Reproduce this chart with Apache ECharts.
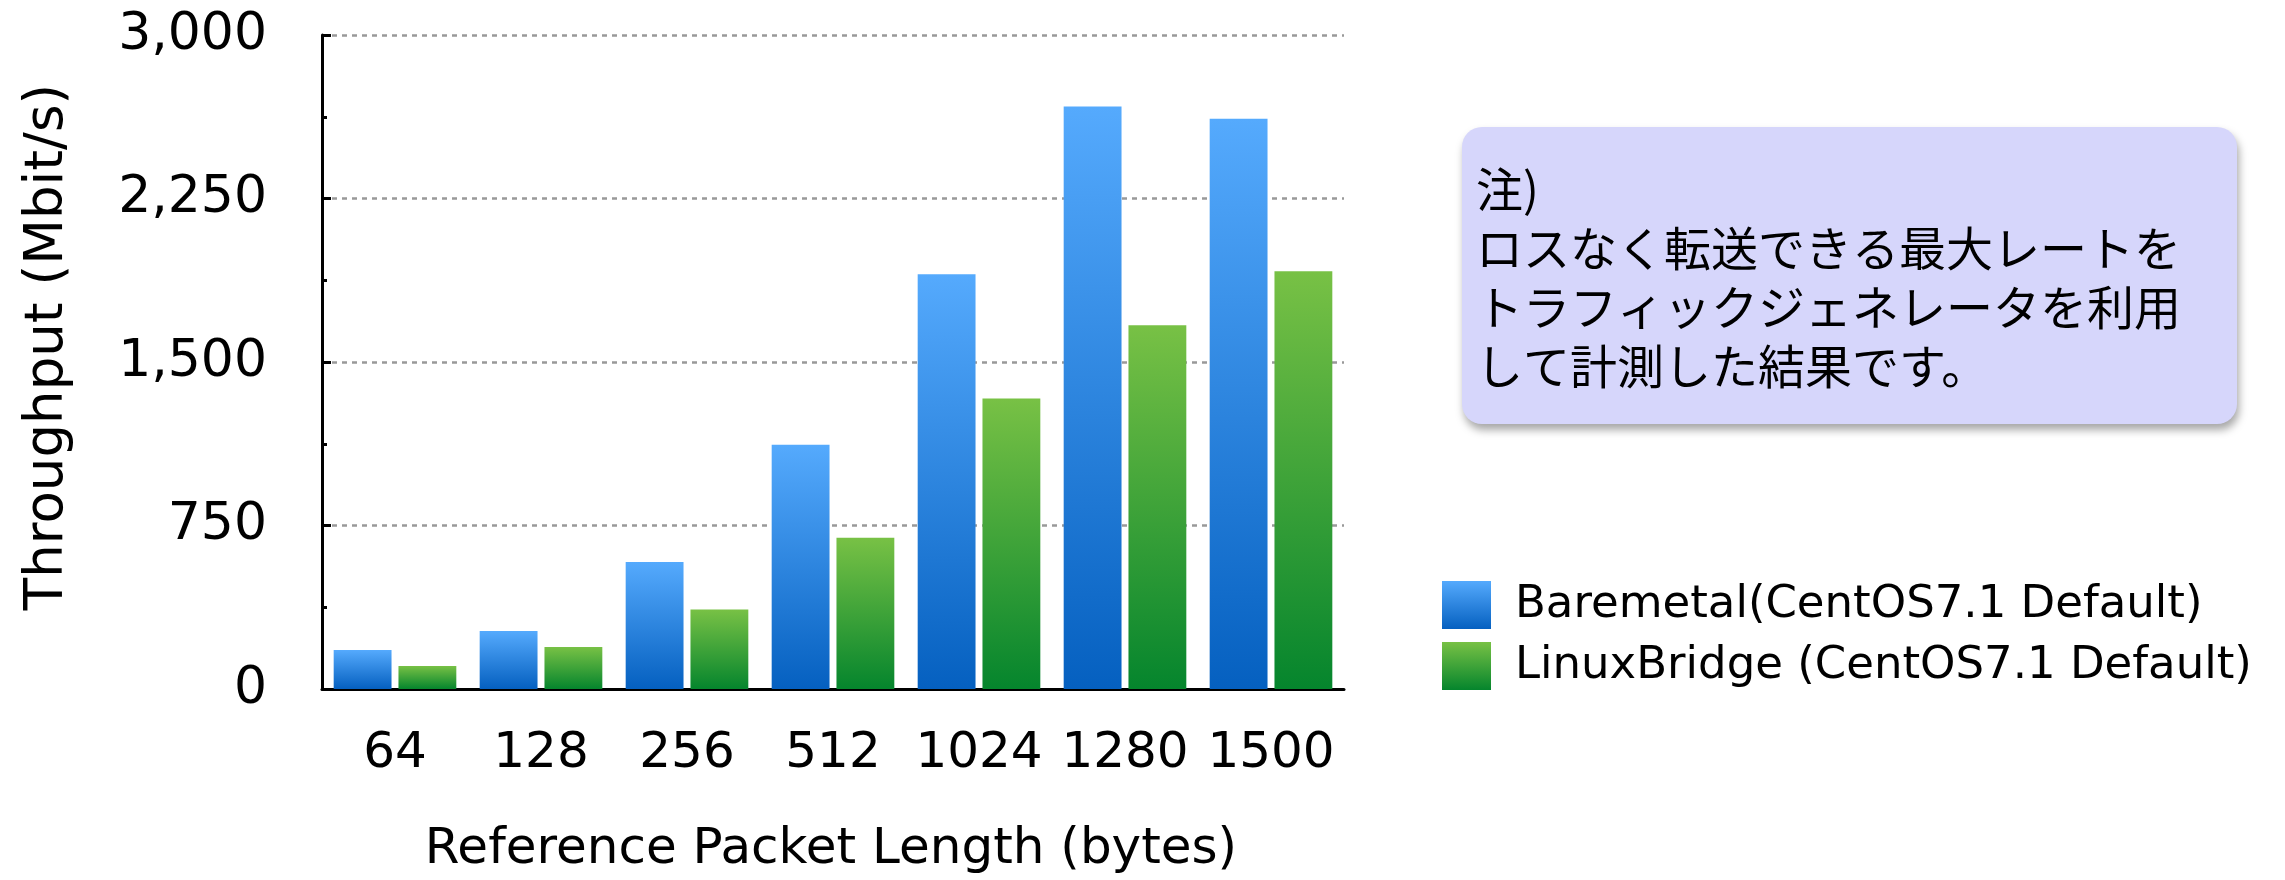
<!DOCTYPE html>
<html>
<head>
<meta charset="utf-8">
<title>Throughput by packet length</title>
<script src="https://cdn.jsdelivr.net/npm/echarts@6/dist/echarts.min.js"></script>
<style>
  html, body { margin: 0; padding: 0; background: #fff; }
  #chart { width: 2285px; height: 880px; }
</style>
</head>
<body>
<div id="chart"></div>
<script>
// Packet sizes on the x axis (bytes)
const packetLengths = ['64', '128', '256', '512', '1024', '1280', '1500'];
// Measured throughput, Mbit/s
const baremetal = [179, 266, 582, 1120, 1903, 2672, 2616];
const linuxBridge = [106, 193, 365, 694, 1332, 1669, 1916];
const seriesNames = ['Baremetal(CentOS7.1 Default)', 'LinuxBridge (CentOS7.1 Default)'];
// Text of the note box
const noteLines = ['注)', 'ロスなく転送できる最大レートを', 'トラフィックジェネレータを利用', 'して計測した結果です。'];
const xTitle = 'Reference Packet Length (bytes)';
const yTitle = 'Throughput (Mbit/s)';

const LATIN = '"DejaVu Sans", "Noto Sans CJK JP", sans-serif';
const CJK = '"Noto Sans CJK JP", "DejaVu Sans", sans-serif';

function vGrad(top, bottom) {
  return new echarts.graphic.LinearGradient(0, 0, 0, 1, [
    { offset: 0, color: top },
    { offset: 1, color: bottom }
  ]);
}
const blueFill = vGrad('#55aafd', '#0560c0');
const greenFill = vGrad('#78c145', '#05852d');

const chart = echarts.init(document.getElementById('chart'), null, { renderer: 'canvas' });

chart.setOption({
  animation: false,
  backgroundColor: '#ffffff',
  grid: { left: 322, right: 941, top: 35, bottom: 191, containLabel: false },
  legend: {
    orient: 'vertical',
    left: 1437,
    top: 576,
    itemWidth: 49,
    itemHeight: 48,
    itemGap: 13,
    icon: 'rect',
    selectedMode: false,
    textStyle: { fontFamily: LATIN, fontSize: 45, color: '#000', padding: [0, 0, 0, 19] },
    data: seriesNames
  },
  xAxis: {
    type: 'category',
    data: packetLengths,
    axisLine: { show: true, lineStyle: { color: '#000', width: 3 } },
    axisTick: { show: false },
    axisLabel: { interval: 0, fontFamily: LATIN, fontSize: 50, color: '#000', margin: 40 },
    splitLine: { show: false }
  },
  yAxis: {
    type: 'value',
    min: 0,
    max: 3000,
    interval: 750,
    axisLine: { show: true, lineStyle: { color: '#000', width: 3 } },
    axisTick: { show: true, inside: true, length: 9, lineStyle: { color: '#000', width: 3 } },
    minorTick: { show: true, splitNumber: 2, length: 5, lineStyle: { color: '#000', width: 3 } },
    axisLabel: {
      fontFamily: LATIN, fontSize: 52, color: '#000', margin: 55,
      formatter: v => v.toLocaleString('en-US')
    },
    splitLine: { show: true, lineStyle: { color: '#999999', width: 2.5, type: [5, 5] } }
  },
  series: [
    {
      name: seriesNames[0],
      type: 'bar',
      data: baremetal,
      barGap: '12%',
      barCategoryGap: '16%',
      itemStyle: { color: blueFill }
    },
    {
      name: seriesNames[1],
      type: 'bar',
      data: linuxBridge,
      barGap: '12%',
      barCategoryGap: '16%',
      itemStyle: { color: greenFill }
    }
  ],
  graphic: [
    {
      type: 'text',
      x: 831, y: 850,
      style: { text: xTitle, fontFamily: LATIN, fontSize: 50, fill: '#000', align: 'center', verticalAlign: 'middle' }
    },
    {
      type: 'text',
      x: 48, y: 347,
      rotation: Math.PI / 2,
      style: { text: yTitle, fontFamily: LATIN, fontSize: 53, fill: '#000', align: 'center', verticalAlign: 'middle' }
    },
    {
      type: 'group',
      left: 1462, top: 127,
      children: [
        {
          type: 'rect',
          shape: { x: 0, y: 0, width: 775, height: 297, r: 20 },
          style: {
            fill: '#d6d6fb',
            shadowBlur: 8, shadowOffsetX: 2, shadowOffsetY: 6,
            shadowColor: 'rgba(0,0,0,0.35)'
          }
        },
        {
          type: 'text',
          x: 14, y: 33,
          style: {
            text: noteLines.join('\n'),
            fontFamily: CJK, fontSize: 47, lineHeight: 59,
            fill: '#000', align: 'left', verticalAlign: 'top'
          }
        }
      ]
    }
  ]
});
</script>
</body>
</html>
